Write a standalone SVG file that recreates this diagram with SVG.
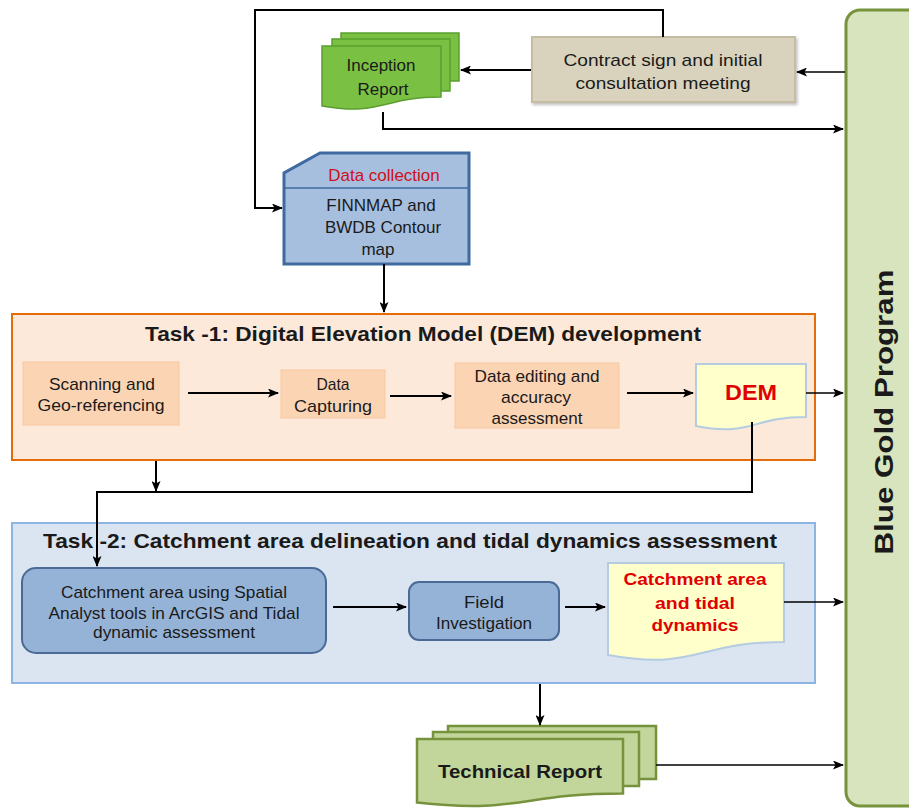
<svg xmlns="http://www.w3.org/2000/svg" width="909" height="812" viewBox="0 0 909 812">
<defs>
<marker id="ah" markerUnits="userSpaceOnUse" markerWidth="11" markerHeight="9" refX="10" refY="4.5" orient="auto">
<path d="M0,0 L11,4.5 L0,9 L2.5,4.5 z" fill="#000"/>
</marker>
<filter id="sh" x="-10%" y="-10%" width="120%" height="130%">
<feDropShadow dx="1.5" dy="2" stdDeviation="1.5" flood-color="#000" flood-opacity="0.25"/>
</filter>
</defs>
<style>
text{font-family:"Liberation Sans",Arial,sans-serif;fill:#1a1a1a;text-anchor:middle}
.t17{font-size:17px}
.n{font-family:"Liberation Sans Narrow","Liberation Sans",Arial,sans-serif;font-size:17px}
.title{font-family:"Liberation Sans Narrow","Liberation Sans",Arial,sans-serif;font-size:21px;font-weight:bold}
.red{fill:#e00000;font-weight:bold}
.con{fill:none;stroke:#000;stroke-width:2;marker-end:url(#ah)}
.thin{stroke-width:1.5}
.orange{fill:#fbd4b4;stroke:#f6c8a2;stroke-width:1}
.bluebox{fill:#95b3d7;stroke:#4a6a95;stroke-width:2}
.yellowdoc{fill:#ffffcc;stroke:#b4cbe0;stroke-width:2}
.tech{fill:#c2d69b;stroke:#76923c;stroke-width:2.5}
.incep{fill:#7ac143;stroke:#5a9e2f;stroke-width:1.5}
</style>

<g id="blue-gold-program">
<rect x="846" y="10" width="80" height="796" rx="14" fill="#d7e4bd" stroke="#77933c" stroke-width="3"/>
<text transform="translate(893,412) rotate(-90)" font-size="26" font-weight="bold" textLength="285" lengthAdjust="spacingAndGlyphs">Blue Gold Program</text>
</g>

<g id="contract">
<rect x="532" y="37" width="263" height="65" fill="#d9d3bd" stroke="#c4bda3" stroke-width="2" filter="url(#sh)"/>
<text class="t17" x="663" y="66" textLength="199" lengthAdjust="spacingAndGlyphs">Contract sign and initial</text>
<text class="t17" x="663" y="89" textLength="175" lengthAdjust="spacingAndGlyphs">consultation meeting</text>
</g>

<g id="inception-report">
<rect class="incep" x="341" y="33" width="118" height="48"/>
<rect class="incep" x="332" y="39" width="118" height="52"/>
<path class="incep" d="M322,46 H441 V97 C381.5,97 381.5,116.5 322,106 Z"/>
<text class="t17" x="381" y="71">Inception</text>
<text class="t17" x="383" y="95">Report</text>
</g>

<g id="data-collection">
<path d="M320,153 H469 V264 H284 V173 Z" fill="#a6bfdf" stroke="#3f6aa0" stroke-width="3"/>
<line x1="284" y1="188" x2="469" y2="188" stroke="#3f6aa0" stroke-width="1.5"/>
<text class="t17" x="384" y="181" fill="#d0101a" style="fill:#d0101a">Data collection</text>
<text class="t17" x="381" y="211">FINNMAP and</text>
<text class="t17" x="383" y="233">BWDB Contour</text>
<text class="t17" x="378" y="255">map</text>
</g>

<g id="task1">
<rect x="12" y="314" width="803" height="146" fill="#fde9da" stroke="#e46c0a" stroke-width="2"/>
<text class="title" x="423" y="341" textLength="556" lengthAdjust="spacingAndGlyphs">Task -1: Digital Elevation Model (DEM) development</text>
</g>

<g id="scanning">
<rect class="orange" x="23" y="362" width="156" height="63"/>
<text class="n" x="102" y="390" textLength="106" lengthAdjust="spacingAndGlyphs">Scanning and</text>
<text class="n" x="101" y="411" textLength="127" lengthAdjust="spacingAndGlyphs">Geo-referencing</text>
</g>

<g id="data-capturing">
<rect class="orange" x="281" y="370" width="104" height="48"/>
<text class="n" x="333" y="390" textLength="33" lengthAdjust="spacingAndGlyphs">Data</text>
<text class="n" x="333" y="412" textLength="78" lengthAdjust="spacingAndGlyphs">Capturing</text>
</g>

<g id="data-editing">
<rect class="orange" x="455" y="363" width="164" height="65"/>
<text class="n" x="537" y="382" textLength="125" lengthAdjust="spacingAndGlyphs">Data editing and</text>
<text class="n" x="536" y="403" textLength="70" lengthAdjust="spacingAndGlyphs">accuracy</text>
<text class="n" x="537" y="424" textLength="91" lengthAdjust="spacingAndGlyphs">assessment</text>
</g>

<g id="dem">
<path class="yellowdoc" d="M696,364 H806 V417 C751,417 751,437 696,426 Z"/>
<text x="751" y="400" font-size="22" class="red" textLength="52" lengthAdjust="spacingAndGlyphs">DEM</text>
</g>

<g id="task2">
<rect x="12" y="523" width="803" height="160" fill="#dbe5f1" stroke="#8eb4e3" stroke-width="2"/>
<text class="title" x="410" y="548" textLength="734" lengthAdjust="spacingAndGlyphs">Task -2: Catchment area delineation and tidal dynamics assessment</text>
</g>

<g id="catchment-tools">
<rect class="bluebox" x="22" y="568" width="304" height="85" rx="14"/>
<text class="n" x="174" y="598" textLength="226" lengthAdjust="spacingAndGlyphs">Catchment area using Spatial</text>
<text class="n" x="174" y="619" textLength="251" lengthAdjust="spacingAndGlyphs">Analyst tools in ArcGIS and Tidal</text>
<text class="n" x="174" y="638" textLength="162" lengthAdjust="spacingAndGlyphs">dynamic assessment</text>
</g>

<g id="field-investigation">
<rect class="bluebox" x="409" y="582" width="150" height="58" rx="10"/>
<text class="n" x="484" y="608" textLength="40" lengthAdjust="spacingAndGlyphs">Field</text>
<text class="n" x="484" y="629" textLength="96" lengthAdjust="spacingAndGlyphs">Investigation</text>
</g>

<g id="catchment-doc">
<path class="yellowdoc" d="M608,563 H784 V642 C696,642 696,671 608,655 Z"/>
<text class="n red" x="695" y="585" textLength="143" lengthAdjust="spacingAndGlyphs">Catchment area</text>
<text class="n red" x="695" y="609" textLength="80" lengthAdjust="spacingAndGlyphs">and tidal</text>
<text class="n red" x="695" y="631" textLength="87" lengthAdjust="spacingAndGlyphs">dynamics</text>
</g>

<g id="technical-report">
<rect class="tech" x="448" y="726" width="208" height="53"/>
<rect class="tech" x="433" y="732" width="206" height="54"/>
<path class="tech" d="M417,739 H623 V793.5 C520,793.5 520,814 417,802.5 Z"/>
<text x="520" y="778" font-size="19" font-weight="bold" textLength="164" lengthAdjust="spacingAndGlyphs">Technical Report</text>
</g>

<g id="connectors">
<path class="con" d="M663,37 V10 H255 V208 H282"/>
<path class="con thin" d="M845,72 H797"/>
<path class="con" d="M531,70 H461"/>
<path class="con" d="M383,112 V129 H843"/>
<path class="con" d="M384,264 V312"/>
<path class="con" d="M188,393 H278"/>
<path class="con" d="M390,396 H451"/>
<path class="con" d="M627,393 H693"/>
<path class="con thin" d="M806,393 H843"/>
<path class="con" d="M156,461 V491"/>
<path class="con" d="M752,422 V492 H97 V566"/>
<path class="con" d="M333,607 H406"/>
<path class="con" d="M565,607 H605"/>
<path class="con thin" d="M784,602 H843"/>
<path class="con" d="M540,684 V725"/>
<path class="con thin" d="M656,765 H843"/>
</g>
</svg>
